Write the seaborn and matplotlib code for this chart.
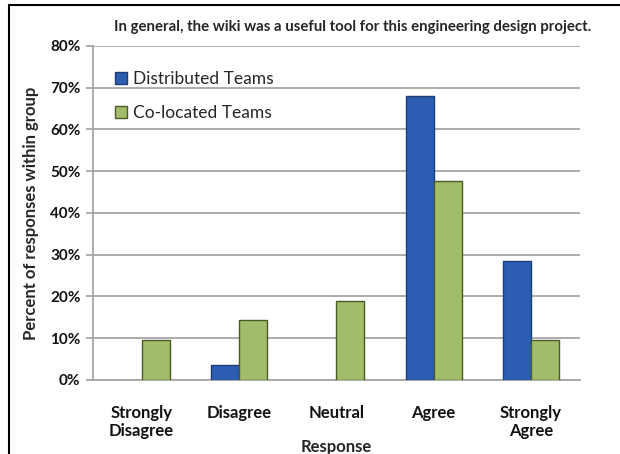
import matplotlib
matplotlib.use("Agg")
import matplotlib.pyplot as plt
import seaborn as sns
import pandas as pd
from matplotlib.lines import Line2D
from matplotlib.ticker import FuncFormatter

categories = ["Strongly\nDisagree", "Disagree", "Neutral", "Agree", "Strongly\nAgree"]
distributed = [0.0, 3.6, 0.0, 67.9, 28.6]
colocated = [9.5, 14.3, 19.0, 47.6, 9.5]
series = ["Distributed Teams", "Co-located Teams"]
yticks = [0, 10, 20, 30, 40, 50, 60, 70, 80]

df = pd.DataFrame({
    "Response": categories * 2,
    "Percent": distributed + colocated,
    "Group": [series[0]] * len(categories) + [series[1]] * len(categories),
})

sns.set_theme(style="white")
plt.rcParams["font.family"] = ["Lato", "DejaVu Sans"]

fig = plt.figure(figsize=(6.2, 4.54), dpi=100)
ax = fig.add_axes([0.150, 0.163, 0.785, 0.736])

palette = {series[0]: "#2b5eb3", series[1]: "#a2bd6a"}
sns.barplot(data=df, x="Response", y="Percent", hue="Group", order=categories,
            hue_order=series, palette=palette, width=0.575, gap=0,
            saturation=1, ax=ax, legend=False)

edges = {series[0]: "#1d3d73", series[1]: "#4a5a28"}
for cont, s in zip(ax.containers, series):
    for p in cont.patches:
        p.set_edgecolor(edges[s])
        p.set_linewidth(1.0 if p.get_height() > 0 else 0)
        p.set_zorder(3)

ax.set_ylim(0, 80)
ax.set_xlim(-0.5, len(categories) - 0.5)
ax.set_yticks(yticks)
ax.yaxis.set_major_formatter(FuncFormatter(lambda v, _: f"{v:.0f}%"))
ax.grid(axis="y", color="#a6a6a6", linewidth=1.3, zorder=0)
ax.set_axisbelow(True)
for sp in ["top", "right"]:
    ax.spines[sp].set_visible(False)
for sp in ["left", "bottom"]:
    ax.spines[sp].set_color("#a6a6a6")
    ax.spines[sp].set_linewidth(1.3)
ax.tick_params(axis="y", which="major", left=True, length=5, width=1.3,
               color="#a6a6a6", labelsize=11, pad=4)
ax.tick_params(axis="x", bottom=False, labelsize=12, pad=12)
for lbl in ax.get_yticklabels() + ax.get_xticklabels():
    lbl.set_fontweight("bold")
    lbl.set_color("#111111")
for lbl in ax.get_xticklabels():
    lbl.set_linespacing(1.15)

ax.set_xlabel("Response", fontsize=12, fontweight="bold", labelpad=0)
ax.set_ylabel("Percent of responses within group", fontsize=12,
              fontweight="bold", labelpad=8)

fig.text(0.568, 0.94, "In general, the wiki was a useful tool for this engineering design project.",
         ha="center", va="center", fontsize=10.8, fontweight="bold")

handles = [Line2D([0], [0], marker="s", linestyle="none", markersize=8,
                  markerfacecolor=palette[s], markeredgecolor=edges[s]) for s in series]
ax.legend(handles, series, loc="upper left", bbox_to_anchor=(0.03, 0.945),
          frameon=False, fontsize=12.5, labelspacing=1.05, handletextpad=0.25,
          handlelength=0.8, borderaxespad=0)

# outer frame (left and top)
fig.add_artist(Line2D([0.015, 0.015], [0.0, 0.99], transform=fig.transFigure,
                      color="black", linewidth=1.5))
fig.add_artist(Line2D([0.015, 1.0], [0.99, 0.99], transform=fig.transFigure,
                      color="black", linewidth=1.5))

fig.savefig("out.png", dpi=100)
